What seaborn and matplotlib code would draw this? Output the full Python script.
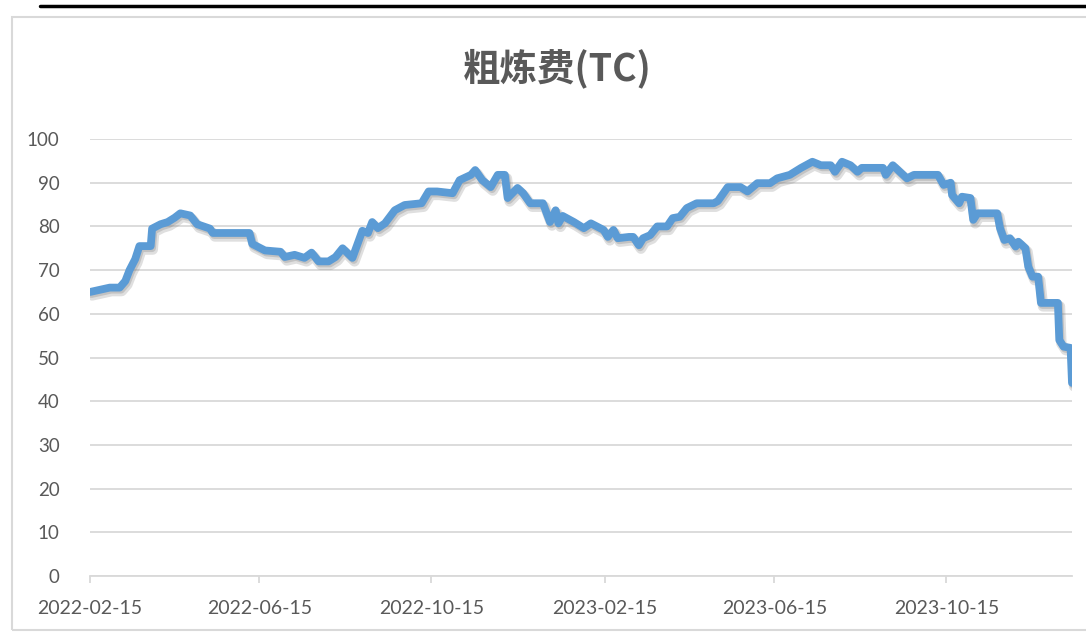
import numpy as np
import pandas as pd
import seaborn as sns
import matplotlib.pyplot as plt
import matplotlib.patheffects as pe
from matplotlib.lines import Line2D
from matplotlib.patches import Rectangle

# values (TC, USD/t)
dates = ['2022-02-15', '2022-02-22', '2022-03-01', '2022-03-08', '2022-03-12', '2022-03-15',
         '2022-03-19', '2022-03-22', '2022-03-30', '2022-03-31', '2022-04-06', '2022-04-11',
         '2022-04-16', '2022-04-20', '2022-04-27', '2022-05-02', '2022-05-11', '2022-05-13',
         '2022-06-08', '2022-06-10', '2022-06-19', '2022-06-30', '2022-07-03', '2022-07-10',
         '2022-07-17', '2022-07-22', '2022-07-27', '2022-08-03', '2022-08-08', '2022-08-13',
         '2022-08-20', '2022-08-27', '2022-08-31', '2022-09-03', '2022-09-07', '2022-09-12',
         '2022-09-19', '2022-09-26', '2022-10-08', '2022-10-13', '2022-10-19', '2022-10-30',
         '2022-11-04', '2022-11-12', '2022-11-15', '2022-11-20', '2022-11-26', '2022-12-01',
         '2022-12-06', '2022-12-08', '2022-12-15', '2022-12-19', '2022-12-24', '2023-01-02',
         '2023-01-07', '2023-01-11', '2023-01-13', '2023-01-16', '2023-01-24', '2023-01-31',
         '2023-02-05', '2023-02-14', '2023-02-17', '2023-02-21', '2023-02-24', '2023-03-04',
         '2023-03-07', '2023-03-11', '2023-03-14', '2023-03-19', '2023-03-24', '2023-03-31',
         '2023-04-04', '2023-04-09', '2023-04-14', '2023-04-21', '2023-05-03', '2023-05-06',
         '2023-05-13', '2023-05-22', '2023-05-27', '2023-06-03', '2023-06-12', '2023-06-17',
         '2023-06-26', '2023-07-04', '2023-07-12', '2023-07-18', '2023-07-25', '2023-07-28',
         '2023-08-02', '2023-08-08', '2023-08-13', '2023-08-16', '2023-08-31', '2023-09-02',
         '2023-09-07', '2023-09-12', '2023-09-17', '2023-09-22', '2023-10-09', '2023-10-13',
         '2023-10-18', '2023-10-19', '2023-10-24', '2023-10-26', '2023-11-01', '2023-11-03',
         '2023-11-06', '2023-11-20', '2023-11-22', '2023-11-25', '2023-11-29', '2023-12-03',
         '2023-12-05', '2023-12-10', '2023-12-12', '2023-12-15', '2023-12-19', '2023-12-21',
         '2024-01-02', '2024-01-03', '2024-01-06', '2024-01-11', '2024-01-12']
tc = [65, 65.5, 66, 66, 67.5, 70,
      72.5, 75.5, 75.5, 79.5, 80.5, 81,
      82, 83, 82.5, 80.5, 79.5, 78.5,
      78.5, 76, 74.5, 74.2, 73, 73.5,
      72.8, 74, 72, 72, 73, 75,
      72.8, 79, 78.5, 81, 79.6, 80.7,
      83.7, 84.9, 85.3, 88, 88, 87.6,
      90.6, 91.8, 92.9, 90.6, 89, 91.8,
      91.8, 86.5, 88.8, 87.6, 85.3, 85.3,
      81, 83.7, 80.7, 82.4, 81, 79.6,
      80.7, 79.2, 77.6, 79.2, 77.3, 77.6,
      77.6, 75.7, 77.3, 78, 80, 80,
      81.9, 82.2, 84.2, 85.3, 85.3, 85.8,
      89, 89, 88, 89.9, 89.9, 91,
      91.8, 93.4, 94.8, 94, 94, 92.5,
      94.8, 94, 92.5, 93.4, 93.4, 91.8,
      94, 92.5, 91, 91.8, 91.8, 89.5,
      90, 87.2, 85.3, 86.8, 86.5, 81.5,
      83, 83, 79.6, 76.9, 77.3, 75.4,
      76.5, 75, 70.8, 68.5, 68.5, 62.5,
      62.5, 54, 52.5, 52.2, 44.2]
tick_dates = ['2022-02-15', '2022-06-15', '2022-10-15', '2023-02-15', '2023-06-15', '2023-10-15']
title = '粗炼费(TC)'

sns.set_theme(style='white')
plt.rcParams['font.family'] = ['Lato', 'Noto Sans CJK SC', 'DejaVu Sans']

df = pd.DataFrame({'date': pd.to_datetime(dates), 'tc': tc})

fig = plt.figure(figsize=(10.86, 6.36), dpi=100)
ax = fig.add_axes([0.0829, 0.0943, 0.9042, 0.6871])

sns.lineplot(data=df, x='date', y='tc', ax=ax, color='#5B9BD5', linewidth=5.6,
             solid_joinstyle='round', solid_capstyle='round')
ax.lines[0].set_path_effects([
    pe.SimpleLineShadow(offset=(1.5, -2.5), shadow_color='#808080', alpha=0.25, linewidth=7.5),
    pe.SimpleLineShadow(offset=(1, -1.5), shadow_color='#808080', alpha=0.3),
    pe.Normal()])

ax.set_ylim(0, 100)
ax.set_yticks(range(0, 101, 10))
ax.set_xlim(pd.Timestamp('2022-02-15'), pd.Timestamp('2024-01-12'))
ax.set_xticks(pd.to_datetime(tick_dates))
ax.set_xticklabels(tick_dates)
ax.set_xlabel('')
ax.set_ylabel('')

ax.grid(axis='y', color='#D9D9D9', linewidth=1.3)
ax.grid(axis='x', visible=False)
ax.set_axisbelow(True)
for s in ['left', 'right', 'top']:
    ax.spines[s].set_visible(False)
ax.spines['bottom'].set_color('#D9D9D9')
ax.spines['bottom'].set_linewidth(1.3)
ax.tick_params(axis='x', length=5, width=1.3, color='#D9D9D9', pad=12,
               labelsize=14, labelcolor='#595959', direction='out', bottom=True)
ax.tick_params(axis='y', length=0, pad=22, labelsize=13.5, labelcolor='#595959')

fig.text(0.513, 0.893, title, ha='center', va='center', fontsize=27, fontweight='bold',
         color='#595959', family=['Noto Sans CJK SC', 'DejaVu Sans'])

# chart frame and the black rule above it
fig.add_artist(Rectangle((12 / 1086, 6 / 636), 1.0, 1 - 17 / 636 - 6 / 636,
                         transform=fig.transFigure, fill=False,
                         edgecolor='#D9D9D9', linewidth=1.5))
fig.add_artist(Line2D([40 / 1086, 1], [1 - 6 / 636, 1 - 6 / 636], transform=fig.transFigure,
                      color='black', linewidth=2.5))

fig.savefig('out.png', dpi=100)
